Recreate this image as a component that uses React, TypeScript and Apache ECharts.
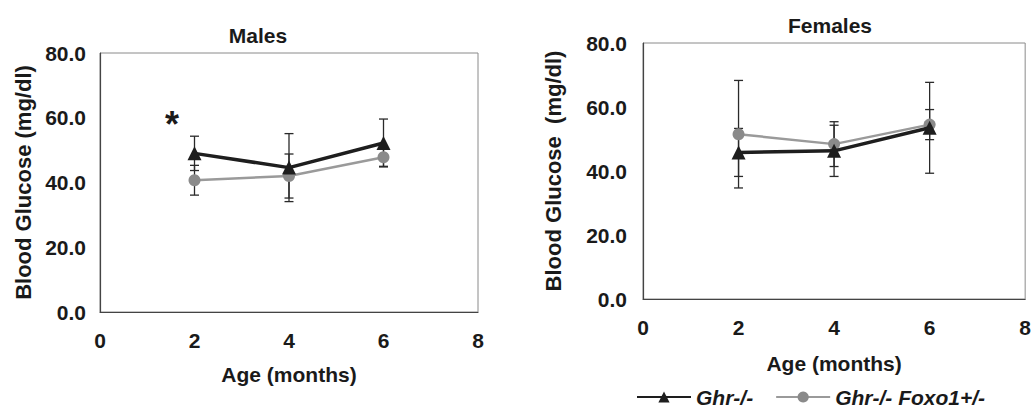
import React, { useEffect, useRef } from "react";
import * as echarts from "echarts";

const months = [2, 4, 6];
const maleGhr = [49.0, 44.6, 52.2];
const maleGhrErr = [5.3, 10.5, 7.4];
const maleFoxo = [40.7, 42.0, 47.8];
const maleFoxoErr = [4.6, 6.8, 2.8];
const femaleGhr = [45.8, 46.3, 53.5];
const femaleGhrErr = [7.5, 8.0, 14.2];
const femaleFoxo = [51.5, 48.4, 54.5];
const femaleFoxoErr = [16.8, 7.0, 4.7];
const yTicks = [0, 20, 40, 60, 80];
const xTicks = [0, 2, 4, 6, 8];

const FONT = "'Liberation Sans', Arial, sans-serif";
const TXT = "#1a1a1a";
const BLACK = "#1e1e1e";
const GRAY = "#9a9a9a";
const GRAY_MARK = "#8a8a8a";

function errData(vals: number[], errs: number[]) {
  return months.map((m, i) => [m, vals[i] - errs[i], vals[i] + errs[i]]);
}

function errSeries(name: string, idx: number, vals: number[], errs: number[]) {
  return {
    type: "custom",
    name,
    xAxisIndex: idx,
    yAxisIndex: idx,
    z: 1,
    silent: true,
    data: errData(vals, errs),
    renderItem: (params: any, api: any) => {
      const x = api.value(0);
      const lo = api.coord([x, api.value(1)]);
      const hi = api.coord([x, api.value(2)]);
      const w = 4.5;
      const st = { stroke: "#2a2a2a", lineWidth: 1.3 };
      return {
        type: "group",
        children: [
          { type: "line", shape: { x1: hi[0], y1: hi[1], x2: lo[0], y2: lo[1] }, style: st },
          { type: "line", shape: { x1: hi[0] - w, y1: hi[1], x2: hi[0] + w, y2: hi[1] }, style: st },
          { type: "line", shape: { x1: lo[0] - w, y1: lo[1], x2: lo[0] + w, y2: lo[1] }, style: st },
        ],
      };
    },
  };
}

function lineSeries(name: string, idx: number, vals: number[], black: boolean) {
  return {
    type: "line",
    name,
    xAxisIndex: idx,
    yAxisIndex: idx,
    z: black ? 4 : 3,
    data: months.map((m, i) => [m, vals[i]]),
    symbol: black ? "triangle" : "circle",
    symbolSize: black ? 14 : 12,
    lineStyle: { color: black ? BLACK : GRAY, width: black ? 3.5 : 2.5 },
    itemStyle: { color: black ? BLACK : GRAY_MARK },
  };
}

function xAxis(idx: number, gap: number) {
  return {
    type: "value",
    gridIndex: idx,
    min: xTicks[0],
    max: xTicks[xTicks.length - 1],
    interval: 2,
    name: "Age (months)",
    nameLocation: "middle",
    nameGap: gap,
    nameTextStyle: { fontFamily: FONT, fontWeight: "bold", fontSize: 21, color: TXT },
    axisLine: { lineStyle: { color: "#444", width: 1.2 } },
    axisTick: { show: false },
    splitLine: { show: false },
    axisLabel: { fontFamily: FONT, fontWeight: "bold", fontSize: 21, color: TXT, margin: 18 },
  };
}

function yAxis(idx: number, name: string, gap: number, margin: number) {
  return {
    type: "value",
    gridIndex: idx,
    min: yTicks[0],
    max: yTicks[yTicks.length - 1],
    interval: 20,
    name,
    nameLocation: "middle",
    nameGap: gap,
    nameTextStyle: { fontFamily: FONT, fontWeight: "bold", fontSize: 22, color: TXT },
    axisLine: { lineStyle: { color: "#444", width: 1.2 } },
    axisTick: { show: false },
    splitLine: { show: false },
    axisLabel: {
      fontFamily: FONT,
      fontWeight: "bold",
      fontSize: 21,
      color: TXT,
      margin,
      formatter: (v: number) => v.toFixed(1),
    },
  };
}

export default function App() {
  const ref = useRef<HTMLDivElement>(null);
  useEffect(() => {
    if (!ref.current) return;
    const chart = echarts.init(ref.current, undefined, { renderer: "svg" });
    const option: any = {
      animation: false,
      backgroundColor: "#ffffff",
      title: [
        {
          text: "Males",
          left: 253,
          top: 20,
          textAlign: "center",
          textStyle: { fontFamily: FONT, fontWeight: "bold", fontSize: 21, color: TXT },
        },
        {
          text: "Females",
          left: 825,
          top: 10,
          textAlign: "center",
          textStyle: { fontFamily: FONT, fontWeight: "bold", fontSize: 21, color: TXT },
        },
      ],
      legend: {
        left: 636,
        top: 385,
        padding: 0,
        itemWidth: 54,
        itemHeight: 14,
        itemGap: 22,
        data: ["Ghr-/-", "Ghr-/- Foxo1+/-"],
        textStyle: {
          fontFamily: FONT,
          fontWeight: "bold",
          fontStyle: "italic",
          fontSize: 21,
          lineHeight: 24,
          color: TXT,
        },
      },
      grid: [
        { left: 100, top: 53, width: 378, height: 259, show: true, borderColor: "#8a8a8a", borderWidth: 1 },
        { left: 643, top: 43, width: 385, height: 256, show: true, borderColor: "#8a8a8a", borderWidth: 1 },
      ],
      xAxis: [xAxis(0, 52), xAxis(1, 54)],
      yAxis: [
        yAxis(0, "Blood Glucose (mg/dl)", 66, 14),
        yAxis(1, "Blood Glucose  (mg/dl)", 79, 16),
      ],
      graphic: [
        {
          type: "text",
          x: 172,
          y: 124,
          style: {
            text: "*",
            fontFamily: FONT,
            fontWeight: "bold",
            fontSize: 36,
            fill: TXT,
            align: "center",
            verticalAlign: "middle",
          },
        },
      ],
      series: [
        errSeries("errM1", 0, maleGhr, maleGhrErr),
        errSeries("errM2", 0, maleFoxo, maleFoxoErr),
        errSeries("errF1", 1, femaleGhr, femaleGhrErr),
        errSeries("errF2", 1, femaleFoxo, femaleFoxoErr),
        lineSeries("Ghr-/- Foxo1+/-", 0, maleFoxo, false),
        lineSeries("Ghr-/-", 0, maleGhr, true),
        lineSeries("Ghr-/- Foxo1+/-", 1, femaleFoxo, false),
        lineSeries("Ghr-/-", 1, femaleGhr, true),
      ],
    };
    chart.setOption(option);
    return () => chart.dispose();
  }, []);
  return (
    <div
      ref={ref}
      style={{ position: "absolute", left: 0, top: 0, width: 1034, height: 416 }}
    />
  );
}
